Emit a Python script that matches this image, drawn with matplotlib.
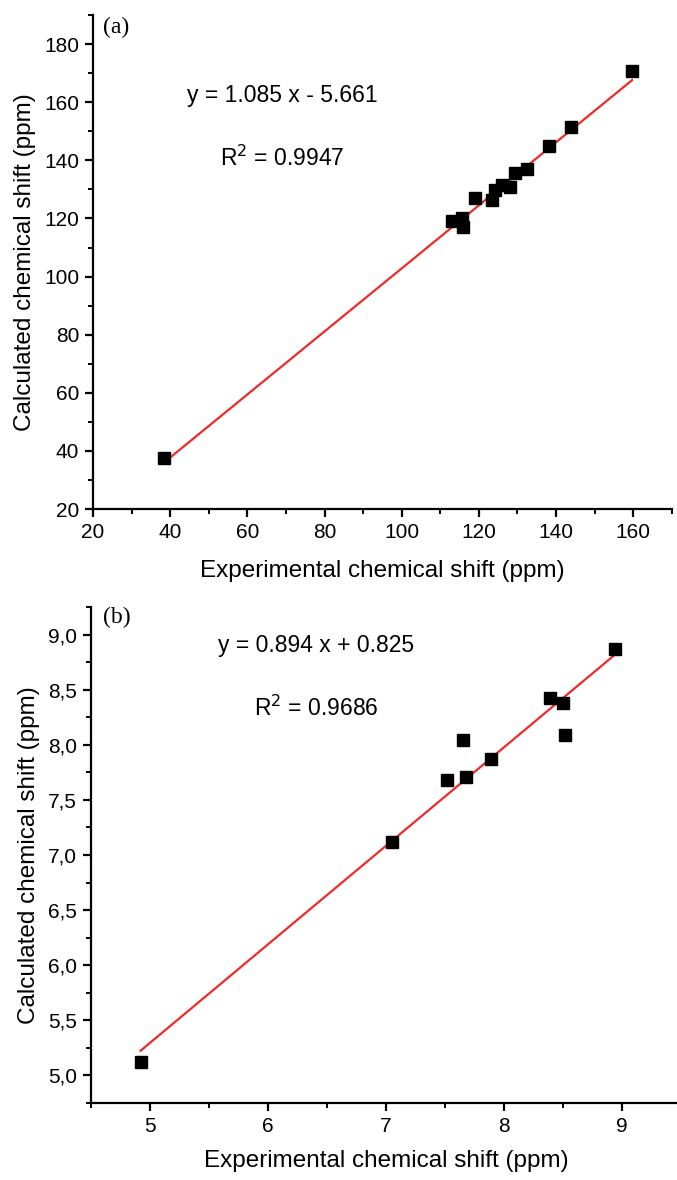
import numpy as np
import matplotlib
matplotlib.use("Agg")
import matplotlib.pyplot as plt
from matplotlib.ticker import MultipleLocator, FuncFormatter

plt.rcParams['font.family'] = ['Liberation Sans', 'DejaVu Sans']

# (a) 13C shifts
exp_a = [38.3, 113.0, 115.7, 115.9, 119.0, 123.3, 124.1, 125.9, 128.0, 129.3, 132.4, 138.2, 143.8, 159.7]
calc_a = [37.5, 119.1, 120.1, 117.1, 126.9, 126.3, 129.8, 131.5, 130.9, 135.5, 137.2, 145.0, 151.6, 170.7]
fit_a = (1.085, -5.661)
eq_a = "y = 1.085 x - 5.661"
r2_a = "R$^2$ = 0.9947"

# (b) 1H shifts
exp_b = [4.92, 7.05, 7.52, 7.65, 7.68, 7.89, 8.39, 8.50, 8.52, 8.94]
calc_b = [5.12, 7.12, 7.68, 8.04, 7.71, 7.87, 8.42, 8.38, 8.09, 8.87]
fit_b = (0.894, 0.825)
eq_b = "y = 0.894 x + 0.825"
r2_b = "R$^2$ = 0.9686"

xlabel = "Experimental chemical shift (ppm)"
ylabel = "Calculated chemical shift (ppm)"

fig = plt.figure(figsize=(6.77, 11.8), dpi=100)
ax1 = fig.add_axes([0.1374, 0.5686, 0.855, 0.4186])
ax2 = fig.add_axes([0.1344, 0.0653, 0.8715, 0.4203])


def style(ax, lpad):
    for s in ['top', 'right']:
        ax.spines[s].set_visible(False)
    for s in ['left', 'bottom']:
        ax.spines[s].set_linewidth(1.6)
    ax.tick_params(which='major', direction='out', length=6, width=1.6, labelsize=15, pad=4)
    ax.tick_params(which='minor', direction='out', length=3.5, width=1.4)
    ax.set_xlabel(xlabel, fontsize=17.5, labelpad=lpad)
    ax.set_ylabel(ylabel, fontsize=17.5, labelpad=6)


def draw(ax, x, y, fit):
    x = np.array(x)
    xs = np.array([x.min(), x.max()])
    ax.plot(xs, fit[0] * xs + fit[1], color='#ee2a2a', lw=1.6, zorder=2)
    ax.plot(x, y, ls='none', marker='s', ms=8, color='black', zorder=3)


draw(ax1, exp_a, calc_a, fit_a)
ax1.set_xlim(20, 170)
ax1.set_ylim(20, 190)
ax1.set_xticks(np.arange(20, 161, 20))
ax1.set_yticks(np.arange(20, 181, 20))
ax1.xaxis.set_minor_locator(MultipleLocator(10))
ax1.yaxis.set_minor_locator(MultipleLocator(10))
style(ax1, 13)
ax1.text(69, 162.5, eq_a, fontsize=16.5, ha='center', va='center')
ax1.text(69, 140.8, r2_a, fontsize=16.5, ha='center', va='center')

draw(ax2, exp_b, calc_b, fit_b)
ax2.set_xlim(4.5, 9.5)
ax2.set_ylim(4.75, 9.25)
ax2.set_xticks(np.arange(5, 10, 1))
ax2.xaxis.set_minor_locator(MultipleLocator(0.5))
ax2.set_yticks(np.arange(5.0, 9.01, 0.5))
ax2.yaxis.set_minor_locator(MultipleLocator(0.25))
ax2.yaxis.set_major_formatter(FuncFormatter(lambda v, p: f"{v:.1f}".replace('.', ',')))
style(ax2, 10)
ax2.text(6.41, 8.905, eq_b, fontsize=16.5, ha='center', va='center')
ax2.text(6.41, 8.33, r2_b, fontsize=16.5, ha='center', va='center')

serif = ['Liberation Serif', 'DejaVu Serif']
fig.text(0.152, 0.977, "(a)", fontsize=17, family=serif, va='center')
fig.text(0.152, 0.477, "(b)", fontsize=17, family=serif, va='center')

fig.savefig("out.png", dpi=100)
